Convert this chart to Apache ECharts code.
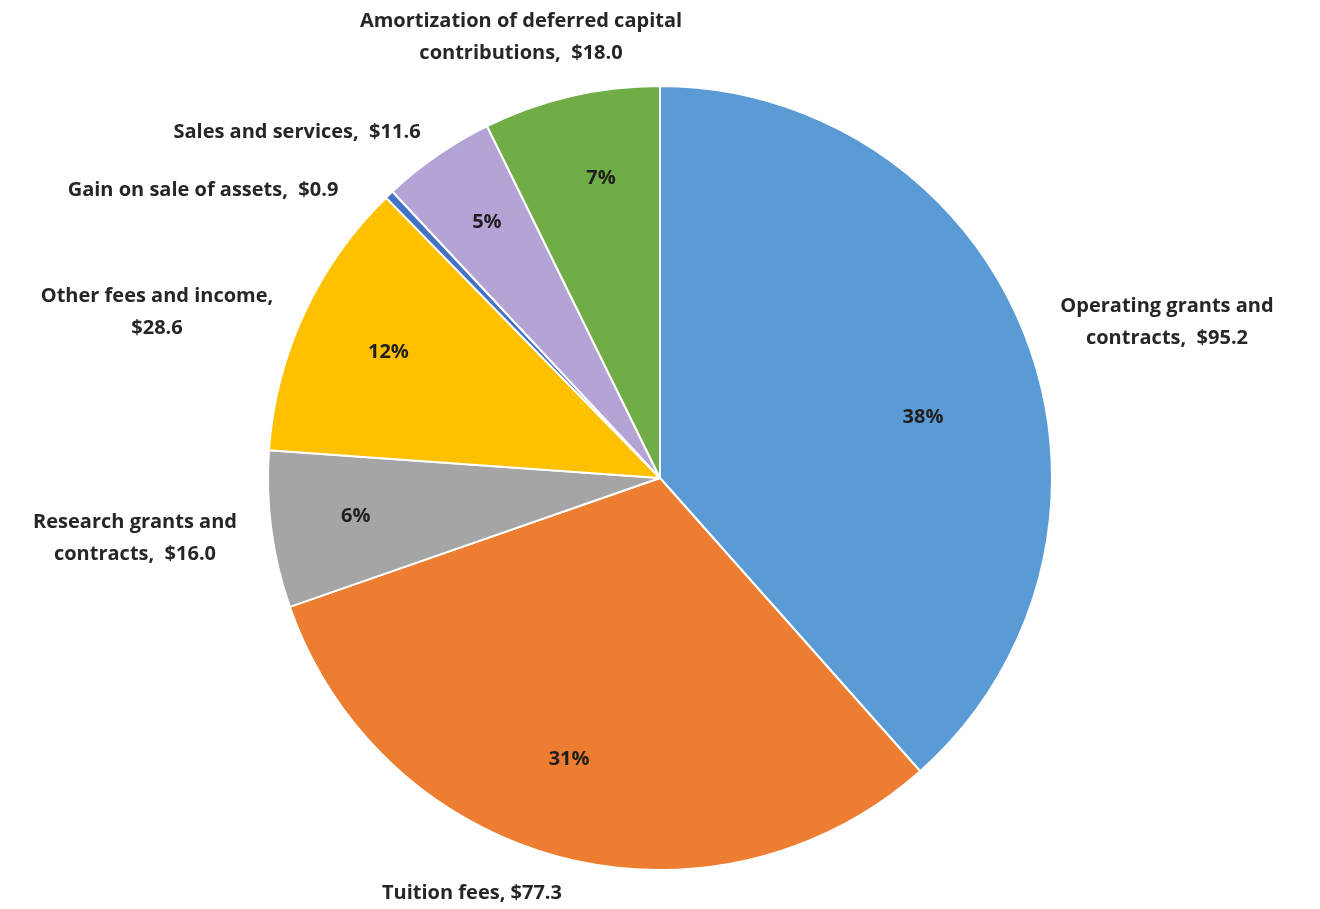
<!DOCTYPE html>
<html>
<head>
<meta charset="utf-8">
<title>Revenue by source</title>
<script src="https://cdn.jsdelivr.net/npm/echarts@6/dist/echarts.min.js"></script>
<style>
  html, body { margin: 0; padding: 0; background: #ffffff; }
  #chart { width: 1320px; height: 909px; }
</style>
</head>
<body>
<div id="chart"></div>
<script>
// Revenue sources ($ millions), clockwise from 12 o'clock
const categories = [
  'Operating grants and contracts',
  'Tuition fees',
  'Research grants and contracts',
  'Other fees and income',
  'Gain on sale of assets',
  'Sales and services',
  'Amortization of deferred capital contributions'
];
const values = [95.2, 77.3, 16.0, 28.6, 0.9, 11.6, 18.0];

// How each category name is broken over lines in its callout
const calloutLines = [
  ['Operating grants and', 'contracts,  $'],
  ['Tuition fees, $'],
  ['Research grants and', 'contracts,  $'],
  ['Other fees and income,', '$'],
  ['Gain on sale of assets,  $'],
  ['Sales and services,  $'],
  ['Amortization of deferred capital', 'contributions,  $']
];

const sliceColors = ['#5B9BD5', '#ED7D31', '#A5A5A5', '#FFC000', '#4472C4', '#B4A3D5', '#70AD47'];

// Callout centre points (layout only)
const calloutAnchors = [
  [1167, 322], [472, 893], [135, 538], [157, 312], [203, 190], [297, 132], [521, 37]
];
// Small nudges for the in-slice percentage labels (layout only)
const percentNudges = [[-22, 48], [-14, -14], [-2, -2], [5, 2], [0, 0], [0, -5], [10, -3]];

const FONT = '"Open Sans", Lato, sans-serif';
const CENTER = [660, 478];
const R = 392;

const chart = echarts.init(document.getElementById('chart'), null, { renderer: 'canvas' });

const baseData = categories.map((name, i) => ({ name, value: values[i] }));

chart.setOption({
  animation: false,
  backgroundColor: '#ffffff',
  color: sliceColors,
  series: [
    {
      // Coloured slices with the outside callouts
      type: 'pie',
      center: CENTER,
      radius: [0, R],
      startAngle: 90,
      clockwise: true,
      silent: true,
      itemStyle: { borderColor: '#ffffff', borderWidth: 2 },
      label: {
        show: true,
        position: 'outside',
        fontFamily: FONT,
        fontWeight: 'bold',
        fontSize: 20,
        lineHeight: 32,
        color: '#262626',
        align: 'center',
        formatter: p => {
          const lines = calloutLines[p.dataIndex].slice();
          lines[lines.length - 1] += p.value.toFixed(1);
          return lines.join('\n');
        }
      },
      labelLine: { show: false },
      labelLayout: p => {
        const a = calloutAnchors[p.dataIndex];
        return { x: a[0], y: a[1], align: 'center', verticalAlign: 'middle', hideOverlap: false };
      },
      data: baseData
    },
    {
      // Transparent ring that carries the percentage labels inside the slices
      type: 'pie',
      center: CENTER,
      radius: [R * 0.54, R],
      startAngle: 90,
      clockwise: true,
      silent: true,
      itemStyle: { color: 'rgba(0,0,0,0)', borderWidth: 0 },
      label: {
        show: true,
        position: 'inside',
        fontFamily: FONT,
        fontWeight: 'bold',
        fontSize: 20,
        color: '#1f1f1f',
        formatter: p => Math.round(p.percent) + '%'
      },
      labelLine: { show: false },
      labelLayout: p => {
        const n = percentNudges[p.dataIndex];
        return { dx: n[0], dy: n[1] };
      },
      data: baseData.map((d, i) => values[i] < 2 ? { ...d, label: { show: false } } : d)
    }
  ]
});
</script>
</body>
</html>
